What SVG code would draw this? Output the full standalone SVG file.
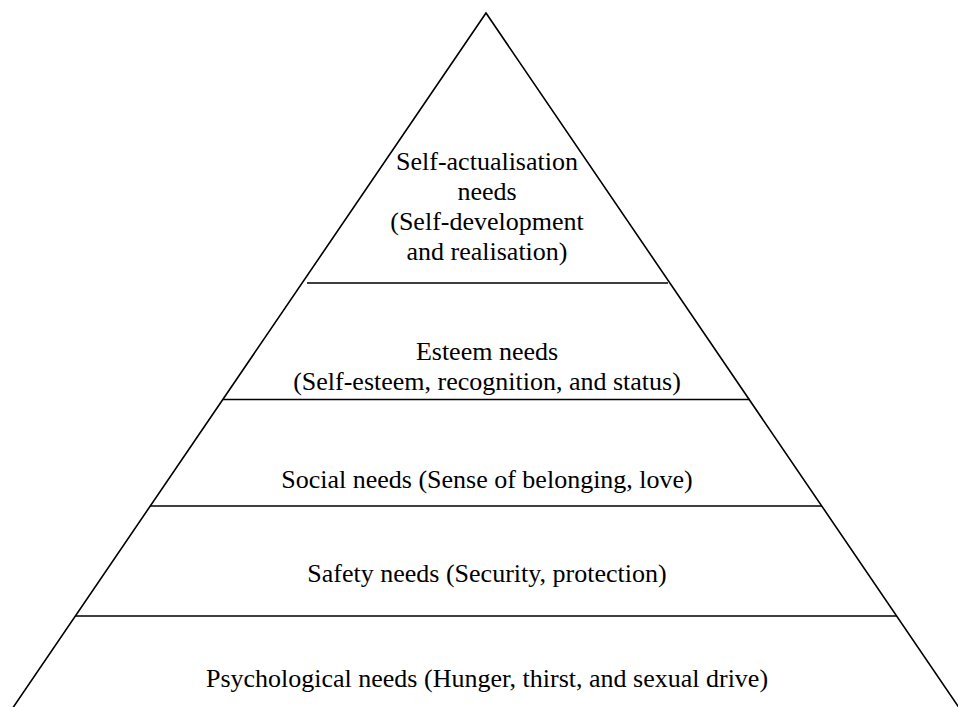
<svg xmlns="http://www.w3.org/2000/svg" width="958" height="707" viewBox="0 0 958 707">
<style>
.ln{stroke:#000;stroke-width:1.6;fill:none}
.t{font-family:"Liberation Serif","Times New Roman",serif;font-size:26px;fill:#000;text-anchor:middle}
</style>
<rect width="958" height="707" fill="#fff"/>
<g id="connectors">
<polyline class="ln" points="10,712 486,13 962,712"/>
<line class="ln" x1="307" y1="283" x2="668" y2="283"/>
<line class="ln" x1="223" y1="399.5" x2="750" y2="399.5"/>
<line class="ln" x1="150" y1="506" x2="822" y2="506"/>
<line class="ln" x1="75" y1="616" x2="897" y2="616"/>
</g>
<g id="self-actualisation">
<text class="t" x="487" y="170">Self-actualisation</text>
<text class="t" x="487" y="200">needs</text>
<text class="t" x="487" y="230">(Self-development</text>
<text class="t" x="487" y="260">and realisation)</text>
</g>
<g id="esteem">
<text class="t" x="487" y="360">Esteem needs</text>
<text class="t" x="487" y="390">(Self-esteem, recognition, and status)</text>
</g>
<g id="social">
<text class="t" x="487" y="488">Social needs (Sense of belonging, love)</text>
</g>
<g id="safety">
<text class="t" x="487" y="582">Safety needs (Security, protection)</text>
</g>
<g id="psychological">
<text class="t" x="487" y="687">Psychological needs (Hunger, thirst, and sexual drive)</text>
</g>
</svg>
